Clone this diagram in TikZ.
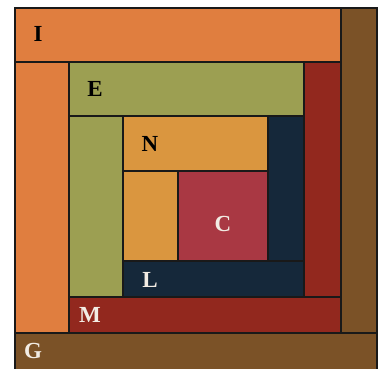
\documentclass[tikz,border=0pt]{standalone}
\usepackage{fontspec}
\setmainfont{Liberation Serif}
\definecolor{cI}{HTML}{E07E3F}
\definecolor{cG}{HTML}{7B5227}
\definecolor{cM}{HTML}{92281E}
\definecolor{cE}{HTML}{9C9F52}
\definecolor{cN}{HTML}{DA963F}
\definecolor{cC}{HTML}{A93843}
\definecolor{cL}{HTML}{15283A}
\definecolor{lite}{HTML}{F2ECE4}
\begin{document}
\begin{tikzpicture}[x=1pt, y=-1pt, block/.style={draw=black!90, line width=1.2pt}, dark label/.style={font=\fontsize{23}{23}\selectfont\bfseries, text=black}, light label/.style={font=\fontsize{23}{23}\selectfont\bfseries, text=lite}]
\useasboundingbox (0,0) rectangle (383,368);

\filldraw[block, fill=cI] (15,8) rectangle (341,62);
\filldraw[block, fill=cI] (15,62) rectangle (69,333);
\filldraw[block, fill=cG] (341,8) rectangle (377,333);
\filldraw[block, fill=cG] (15,333) rectangle (377,370);

\filldraw[block, fill=cE] (69,62) rectangle (304,116);
\filldraw[block, fill=cE] (69,116) rectangle (123,297);
\filldraw[block, fill=cM] (304,62) rectangle (341,297);
\filldraw[block, fill=cM] (69,297) rectangle (341,333);

\filldraw[block, fill=cN] (123,116) rectangle (268,171);
\filldraw[block, fill=cN] (123,171) rectangle (178,261);
\filldraw[block, fill=cL] (268,116) rectangle (304,261);
\filldraw[block, fill=cL] (123,261) rectangle (304,297);

\filldraw[block, fill=cC] (178,171) rectangle (268,261);

\node[dark label] (nI) at (38,34) {I};
\node[dark label] (nE) at (95,89) {E};
\node[dark label] (nN) at (150,144) {N};
\node[light label] (nC) at (223,224) {C};
\node[light label] (nL) at (150,280) {L};
\node[light label] (nM) at (90,315) {M};
\node[light label] (nG) at (33,351) {G};
\end{tikzpicture}
\end{document}
